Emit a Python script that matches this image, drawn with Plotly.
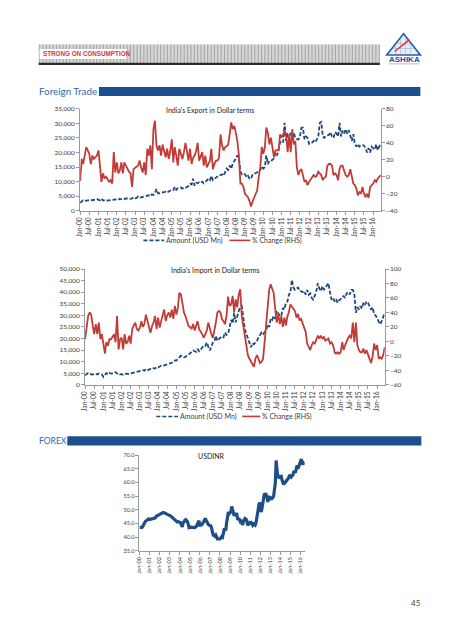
import pandas as pd
import plotly.graph_objects as go

W, H = 453, 640
FONT = "Lato"

# ---------------- data (monthly, Jan-2000 .. Jun-2016) ----------------
start_month = "2000-01-01"
n_months = 198

export_amount = [
    2700, 3300, 3600, 3400, 3500, 3600, 3500, 3700, 3600, 3700, 3900, 4000,
    3700, 3600, 4200, 3500, 3600, 3700, 3500, 3600, 3500, 3600, 3700, 3900,
    3800, 3700, 4100, 3900, 4100, 4000, 4200, 4300, 4200, 4100, 4200, 4600,
    4300, 4400, 4900, 4500, 4700, 4800, 4900, 5000, 5200, 5300, 5000, 5600,
    5400, 6000, 7400, 6000, 6000, 6200, 6400, 6400, 6500, 6200, 6600, 7000,
    7200, 7100, 8200, 7200, 7700, 7800, 8000, 7600, 8000, 7900, 8200, 8500,
    9200, 9000, 11000, 8600, 9600, 9400, 9800, 9600, 10000, 9400, 9800, 10400,
    11000, 10500, 12000, 10500, 11000, 11400, 12000, 12200, 12200, 12500, 12000, 13500,
    14500, 14000, 15500, 14400, 16300, 17000, 18200, 19000, 18000, 13500, 12500, 12800,
    12500, 11500, 12000, 11000, 11000, 12500, 12600, 12800, 13200, 13500, 14000, 15300,
    14500, 15000, 19000, 16000, 17100, 17000, 17500, 18000, 20000, 19000, 21000, 23400,
    24000, 23500, 30200, 24000, 26300, 26000, 26500, 25000, 26800, 25000, 24600, 24500,
    25500, 28500, 28500, 24500, 25500, 25000, 23000, 23500, 23400, 24000, 23500, 24700,
    25500, 30200, 30500, 25500, 25000, 25800, 26000, 26000, 27000, 25500, 25000, 27000,
    26500, 25500, 30200, 25500, 27500, 26500, 28000, 26500, 27700, 26000, 24000, 26300,
    23000, 22000, 22900, 22000, 22500, 22500, 22400, 21500, 20000, 21500, 20000, 22000,
    21300, 21000, 22800, 20800, 22000, 22900,
]

export_change = [
    -5, 21, 15, 28, 35, 31, 27, 15, 25, 21, 23, 25,
    31, 5, -6, 4, -2, 0, -3, -6, -4, -8, 29, 5,
    17, 4, 7, 17, 4, 17, 13, 9, 6, 4, -12, 9,
    11, 12, 13, 19, 11, 5, 17, 2, 33, 25, 37, 9,
    56, 66, 37, 31, 37, 25, 38, 30, 23, 33, 21, 30,
    44, 17, 35, 25, 13, 33, 27, 21, 29, 40, 30, 19,
    33, 15, 22, 25, 30, 40, 19, 24, 29, 13, 25, 11,
    15, 19, 33, 9, 15, 19, 19, 22, 50, 37, 31, 35,
    36, 38, 50, 64, 56, 60, 52, 42, 25, -8, -8, -12,
    -20, -22, -24, -29, -35, -29, -25, -20, -16, 0, 11, 35,
    27, 35, 58, 52, 38, 46, 34, 23, 31, 31, 31, 50,
    46, 50, 54, 50, 29, 50, 29, 56, 38, 42, 11, 2,
    7, 9, 0, -6, -4, -10, -6, -3, 0, 2, 0, 1,
    6, 4, 2, -4, -1, 0, 13, 15, 15, 13, 2, 4,
    2, -4, 9, 13, 13, 7, 2, 0, 2, 9, 0, -8,
    -10, -14, -22, -18, -20, -12, -20, -24, -20, -25, -12, -10,
    -8, -4, -6, -2, 0, 2,
]

import_amount = [
    4100, 4600, 5100, 4700, 4500, 4400, 4600, 4800, 4500, 4900, 4600, 4500,
    3400, 4200, 5000, 4600, 5200, 4800, 4900, 5000, 5500, 4800, 4300, 4500,
    4600, 4300, 4600, 4800, 4700, 4600, 4900, 5100, 5000, 5300, 5500, 5800,
    5800, 6000, 6300, 6100, 6700, 6200, 6500, 6800, 6700, 7200, 7000, 7700,
    7500, 7800, 8300, 8200, 8400, 8600, 9000, 9100, 9400, 9500, 10000, 10500,
    10500, 11200, 11900, 12600, 12300, 11900, 12000, 12800, 13000, 13500, 14100, 14800,
    14500, 14200, 15500, 14500, 15200, 16000, 16900, 16800, 18300, 16500, 14800, 16500,
    18300, 18800, 21200, 19000, 19500, 20400, 21000, 20500, 22600, 21500, 22000, 24700,
    28000, 26500, 31100, 27000, 30000, 31900, 33500, 34000, 29000, 24000, 22000, 20000,
    17500, 16200, 18000, 17500, 18300, 19000, 20500, 21500, 22600, 21900, 22500, 23500,
    26100, 25000, 28500, 28000, 29800, 28500, 31900, 31000, 29500, 30000, 33200, 32500,
    35400, 36000, 38900, 40000, 45300, 42000, 41000, 41500, 42000, 40500, 40500, 40000,
    40500, 39000, 41000, 38900, 39500, 37500, 36800, 38500, 40500, 43900, 41500, 40500,
    42600, 41000, 42000, 43000, 43900, 40000, 36800, 37500, 36000, 37000, 35400, 36500,
    37000, 38000, 38300, 37500, 39500, 40000, 39000, 41000, 41000, 39500, 31100, 33500,
    32500, 34000, 33000, 35400, 34500, 36000, 35400, 34000, 32500, 33500, 30400, 30000,
    28500, 27500, 26100, 27500, 29500, 31100,
]

import_change = [
    3, 20, 35, 40, 37, 22, 10, 24, 10, 26, 3, 10,
    -6, -17, -1, -6, 3, 3, 6, 10, -1, 35, -11, 3,
    5, -11, 10, -3, -1, 8, -3, 17, 22, 26, 17, 15,
    19, 28, 20, 24, 37, 28, 17, 12, 21, 26, 35, 17,
    33, 19, 28, 35, 44, 28, 36, 40, 33, 44, 31, 49,
    37, 47, 67, 65, 53, 40, 35, 28, 21, 20, 17, 24,
    15, 22, 28, 17, 14, 10, 5, 10, 15, 26, 17, 10,
    5, 15, 26, 40, 42, 40, 31, 28, 24, 35, 62, 49,
    51, 63, 40, 58, 47, 65, 72, 35, 22, 6, -8, -19,
    -24, -28, -33, -35, -24, -19, -24, -30, -28, -24, -1, 26,
    47, 72, 79, 74, 67, 45, 26, 38, 24, 35, 20, 33,
    22, 35, 40, 51, 47, 45, 42, 33, 38, 29, 31, 26,
    20, 13, -3, -8, -12, -5, -1, -3, 4, 8, 4, 8,
    4, 6, 1, 3, 4, -3, -1, -5, -15, -17, -15, -17,
    -15, -1, -12, -5, 1, 5, 8, 4, 26, -1, 26, -5,
    -12, -15, -15, -10, -17, -12, -18, -24, -30, -21, -3, -12,
    -5, -24, -22, -24, -19, -8,
]

usdinr = [
    43.6, 43.6, 43.6, 43.6, 44.0, 44.7, 44.8, 45.8, 46.0, 46.3, 46.8, 46.7,
    46.5, 46.6, 46.6, 46.8, 47.0, 47.0, 47.2, 47.1, 47.7, 48.0, 48.0, 48.2,
    48.4, 48.7, 48.8, 48.9, 49.0, 49.0, 48.8, 48.6, 48.5, 48.4, 48.3, 48.0,
    47.9, 47.8, 47.5, 47.4, 47.2, 46.8, 46.2, 46.0, 45.8, 45.6, 45.7, 45.5,
    45.4, 45.3, 44.5, 43.8, 45.3, 45.5, 46.1, 46.4, 46.1, 45.8, 44.9, 43.6,
    43.8, 43.6, 43.6, 43.6, 43.5, 43.6, 43.5, 43.8, 44.0, 44.8, 45.8, 46.0,
    44.4, 44.3, 44.5, 44.8, 45.4, 46.0, 46.5, 46.5, 46.1, 45.3, 44.7, 44.3,
    44.2, 44.2, 43.5, 41.9, 40.8, 40.8, 40.4, 40.8, 39.8, 39.4, 39.4, 39.4,
    39.4, 39.7, 40.2, 40.0, 42.1, 42.8, 42.8, 42.9, 45.5, 48.7, 49.2, 48.6,
    49.0, 49.3, 51.2, 50.0, 48.5, 47.8, 48.5, 48.3, 48.4, 46.7, 46.6, 46.6,
    45.9, 46.3, 45.5, 44.5, 45.8, 46.6, 46.8, 46.6, 46.0, 44.4, 45.0, 45.1,
    45.4, 45.4, 44.9, 44.4, 44.9, 44.8, 44.4, 45.3, 47.6, 49.3, 50.8, 52.7,
    51.3, 49.2, 50.3, 51.8, 54.5, 56.0, 55.5, 55.6, 54.6, 52.9, 54.6, 54.6,
    54.3, 53.7, 54.4, 54.4, 55.0, 58.4, 59.7, 68.0, 63.0, 61.6, 62.6, 61.9,
    62.1, 62.2, 61.0, 60.4, 59.3, 59.7, 60.1, 60.9, 61.0, 61.3, 61.7, 62.7,
    62.2, 62.0, 62.4, 62.7, 63.8, 63.9, 63.6, 65.0, 66.2, 65.0, 65.8, 66.5,
    67.3, 68.5, 67.3, 66.5, 67.2, 67.5,
]

amount_label = "Amount (USD Mn)"
change_label = "% Change (RHS)"

months = pd.date_range(start_month, periods=n_months, freq="MS")

# ---------------- helpers (pixel -> paper) ----------------
def fx(x):
    return x / W


def fy(y):
    return 1 - y / H


BLUE = "#1F497D"
RED = "#C23B36"
AXIS = "#9a9a9a"
TXT = "#404040"
DASH = "4px,2px"

fig = go.Figure()

# Export chart
fig.add_trace(go.Scatter(x=months, y=export_amount, name=amount_label, mode="lines",
                         line=dict(color=BLUE, width=1.8, dash=DASH),
                         xaxis="x", yaxis="y", showlegend=False))
fig.add_trace(go.Scatter(x=months, y=export_change, name=change_label, mode="lines",
                         line=dict(color=RED, width=1.8),
                         xaxis="x", yaxis="y2", showlegend=False))
# Import chart
fig.add_trace(go.Scatter(x=months, y=import_amount, name=amount_label, mode="lines",
                         line=dict(color=BLUE, width=1.8, dash=DASH),
                         xaxis="x2", yaxis="y3", showlegend=False))
fig.add_trace(go.Scatter(x=months, y=import_change, name=change_label, mode="lines",
                         line=dict(color=RED, width=1.8),
                         xaxis="x2", yaxis="y4", showlegend=False))
# USDINR
fig.add_trace(go.Scatter(x=months, y=usdinr, name="USDINR", mode="lines",
                         line=dict(color="#1F4E85", width=3.2),
                         xaxis="x3", yaxis="y5", showlegend=False))


def xax(domain, anchor, dtick, size):
    return dict(domain=domain, anchor=anchor, type="date",
                range=[months[0], months[-1]], tick0=start_month, dtick=dtick,
                tickformat="%b-%y", tickangle=-90, showline=True, linecolor=AXIS,
                linewidth=1, ticks="outside", ticklen=3, tickcolor=AXIS,
                tickfont=dict(family=FONT, size=size, color=TXT), showgrid=False,
                zeroline=False)


def yax(domain, anchor, rng, dtick, fmt, size, **kw):
    d = dict(anchor=anchor, range=rng, dtick=dtick, tickformat=fmt, showline=True,
             linecolor=AXIS, linewidth=1, ticks="outside", ticklen=3, tickcolor=AXIS,
             tickfont=dict(family=FONT, size=size, color=TXT), showgrid=False,
             zeroline=False)
    if domain is not None:
        d["domain"] = domain
    d.update(kw)
    return d


fig.update_layout(
    width=W, height=H, margin=dict(l=0, r=0, t=0, b=0),
    paper_bgcolor="white", plot_bgcolor="white", showlegend=False,
    xaxis=xax([fx(76), fx(380)], "y", "M6", 6.6),
    yaxis=yax([fy(209), fy(106)], "x", [0, 35000], 5000, ",", 6.5),
    yaxis2=yax(None, "x", [-40, 80], 20, "d", 6.5, overlaying="y", side="right"),
    xaxis2=xax([fx(81), fx(384)], "y3", "M6", 6.6),
    yaxis3=yax([fy(385), fy(268)], "x2", [0, 50000], 5000, ",", 6.5),
    yaxis4=yax(None, "x2", [-60, 100], 20, "d", 6.5, overlaying="y3", side="right"),
    xaxis3=xax([fx(136), fx(303)], "y5", "M12", 5.5),
    yaxis5=yax([fy(553), fy(456)], "x3", [35, 70], 5, ".1f", 5.5),
)

shapes = []
annotations = []


def legend_item(x0, x1, y, color, dash, label):
    shapes.append(dict(type="line", xref="paper", yref="paper", x0=fx(x0), x1=fx(x1),
                       y0=fy(y), y1=fy(y), line=dict(color=color, width=1.6, dash=dash)))
    annotations.append(dict(text=label, xref="paper", yref="paper", x=fx(x1 + 1), y=fy(y),
                            xanchor="left", yanchor="middle", showarrow=False, borderpad=0,
                            font=dict(family=FONT, size=7, color=TXT)))


# manual legends
legend_item(140, 161, 239, BLUE, DASH, amount_label)
legend_item(227, 248, 239, RED, "solid", change_label)
legend_item(153, 175, 417, BLUE, DASH, amount_label)
legend_item(240, 258, 417, RED, "solid", change_label)

# header striped bar
shapes.append(dict(type="rect", xref="paper", yref="paper", x0=fx(34), x1=fx(379),
                   y0=fy(59.5), y1=fy(41), fillcolor="#d6d6d6", line_width=0, layer="below"))
xs = 35.0
while xs < 379:
    shapes.append(dict(type="line", xref="paper", yref="paper", x0=fx(xs), x1=fx(xs),
                       y0=fy(59.5), y1=fy(41), line=dict(color="#a4a4a4", width=1)))
    xs += 3.4
shapes.append(dict(type="rect", xref="paper", yref="paper", x0=fx(34), x1=fx(379),
                   y0=fy(61.7), y1=fy(59.3), fillcolor="#2a2a2a", line_width=0))
shapes.append(dict(type="rect", xref="paper", yref="paper", x0=fx(35), x1=fx(123),
                   y0=fy(55.5), y1=fy(45.5), fillcolor="white", line_width=0))
annotations.append(dict(text="<b>STRONG ON CONSUMPTION</b>", xref="paper", yref="paper",
                        x=fx(37.5), y=fy(50.5), xanchor="left", yanchor="middle",
                        showarrow=False, borderpad=0,
                        font=dict(family="Liberation Sans", size=6.3, color="#E0332B")))

# logo
tri = "M {} {} L {} {} L {} {} Z".format(fx(403), fy(30), fx(386), fy(51.5), fx(420), fy(51.5))
shapes.append(dict(type="path", xref="paper", yref="paper", path=tri,
                   fillcolor="#e9eef6", line=dict(color="#1F5FAE", width=1.6)))
for gx in (395, 400, 405, 410):
    shapes.append(dict(type="line", xref="paper", yref="paper", x0=fx(gx), x1=fx(gx),
                       y0=fy(51), y1=fy(30 + abs(gx - 403) * 1.25 + 2),
                       line=dict(color="#9fb3d4", width=0.6)))
for gy in (40, 45):
    half = (gy - 30) * 17 / 21.5
    shapes.append(dict(type="line", xref="paper", yref="paper", x0=fx(403 - half + 1),
                       x1=fx(403 + half - 1), y0=fy(gy), y1=fy(gy),
                       line=dict(color="#9fb3d4", width=0.6)))
shapes.append(dict(type="line", xref="paper", yref="paper", x0=fx(394), x1=fx(409),
                   y0=fy(48), y1=fy(36), line=dict(color="#d8322c", width=1.4)))
annotations.append(dict(text="<b>ASHIKA</b>", xref="paper", yref="paper", x=fx(403.5),
                        y=fy(55.8), xanchor="center", yanchor="middle", showarrow=False,
                        font=dict(family="Liberation Sans", size=8, color="#1F4E9C")))
shapes.append(dict(type="line", xref="paper", yref="paper", x0=fx(388), x1=fx(419),
                   y0=fy(60.5), y1=fy(60.5), line=dict(color="#b0b0b0", width=0.8)))

# section headers
annotations.append(dict(text="Foreign Trade", xref="paper", yref="paper", x=fx(33),
                        y=fy(88), xanchor="left", yanchor="middle", showarrow=False,
                        borderpad=0, font=dict(family=FONT, size=9.8, color="#2C69B0")))
shapes.append(dict(type="rect", xref="paper", yref="paper", x0=fx(95), x1=fx(420),
                   y0=fy(93), y1=fy(84), fillcolor="#1B4F8E", line_width=0))
annotations.append(dict(text="FOREX", xref="paper", yref="paper", x=fx(33),
                        y=fy(442), xanchor="left", yanchor="middle", showarrow=False,
                        borderpad=0, font=dict(family=FONT, size=8.5, color="#2C69B0")))
shapes.append(dict(type="rect", xref="paper", yref="paper", x0=fx(63), x1=fx(421),
                   y0=fy(446.5), y1=fy(437), fillcolor="#1B4F8E", line_width=0))

# chart titles
annotations.append(dict(text="India's Export in Dollar terms", xref="paper", yref="paper",
                        x=fx(207), y=fy(107.5), xanchor="center", yanchor="middle",
                        showarrow=False, font=dict(family=FONT, size=7, color="#222")))
annotations.append(dict(text="India's Import in Dollar terms", xref="paper", yref="paper",
                        x=fx(213), y=fy(269), xanchor="center", yanchor="middle",
                        showarrow=False, font=dict(family=FONT, size=7, color="#222")))
annotations.append(dict(text="USDINR", xref="paper", yref="paper",
                        x=fx(209), y=fy(457.5), xanchor="center", yanchor="middle",
                        showarrow=False, font=dict(family=FONT, size=7, color="#222")))
annotations.append(dict(text="45", xref="paper", yref="paper", x=fx(415.5), y=fy(606),
                        xanchor="center", yanchor="middle", showarrow=False,
                        font=dict(family=FONT, size=8, color="#444")))

fig.update_layout(shapes=shapes, annotations=annotations)
fig.write_html("out.html", config={"displayModeBar": False},
               post_script="document.body.style.margin='0px';document.body.style.overflow='hidden';")
